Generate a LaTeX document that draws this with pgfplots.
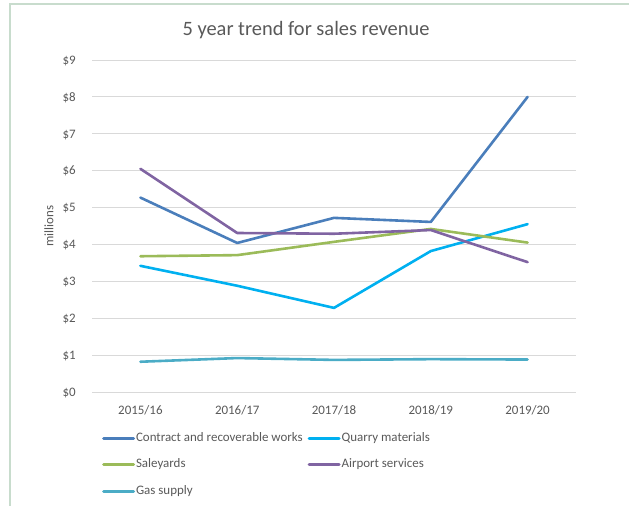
\documentclass[border=0pt]{standalone}
\usepackage{pgfplots}
\pgfplotsset{compat=1.18}
\usepackage{fontspec}
\setmainfont{Carlito}
\definecolor{txt}{HTML}{595959}
\definecolor{gridc}{HTML}{D9D9D9}
\definecolor{framec}{HTML}{C8DCCD}
\definecolor{cBlue}{HTML}{4A7EBB}
\definecolor{cCyan}{HTML}{00B0F0}
\definecolor{cGreen}{HTML}{9BBB59}
\definecolor{cPurple}{HTML}{8064A2}
\definecolor{cTeal}{HTML}{4BACC6}
\begin{document}
\begin{tikzpicture}[x=1bp,y=1bp]
\path[use as bounding box] (0,0) rectangle (629,506);
\draw[framec, line width=2.5bp] (10,0) -- (10,502) -- (629,502);
\node[text=txt, font=\fontsize{20.5}{24}\selectfont] at (306,476) {5 year trend for sales revenue};
\begin{axis}[
  at={(92bp,114bp)}, anchor=south west,
  width=484bp, height=332bp, scale only axis,
  xmin=-0.5, xmax=4.5, ymin=0, ymax=9,
  axis line style={draw=none},
  ytick={0,...,9}, xtick={0,...,4},
  xticklabels={2015/16,2016/17,2017/18,2018/19,2019/20},
  major tick length=0pt,
  ymajorgrids, grid style={gridc, line width=0.9bp},
  yticklabel={\$\pgfmathprintnumber[assume math mode=true]{\tick}},
  ticklabel style={font=\fontsize{13}{15}\selectfont, text=txt},
  yticklabel style={anchor=base east, inner sep=0pt, xshift=-16bp, yshift=-4.3bp},
  xticklabel style={anchor=base, inner sep=0pt, yshift=-23bp},
  ylabel={millions},
  ylabel style={font=\fontsize{13}{15}\selectfont, text=txt, at={(axis description cs:-0.0888,0.5)}, anchor=center},
  legend columns=2,
  legend cell align=left,
  legend style={at={(axis description cs:0.0207,-0.1215)}, anchor=north west, draw=none, fill=none, inner sep=0pt, row sep=14.3bp,
    font=\fontsize{13}{15}\selectfont, text=txt,
    nodes={inner xsep=1bp, inner ysep=0pt, text height=9bp, text depth=3bp},
    /tikz/every even column/.append style={column sep=4bp}},
  legend image code/.code={\draw[#1, line width=2.8bp] (0bp,0bp) -- (30bp,0bp);},
  every axis plot/.append style={line width=2.6bp, line join=round, line cap=round},
]
\addplot[cBlue] coordinates {(0,5.27) (1,4.04) (2,4.72) (3,4.61) (4,8.00)};
\addlegendentry{Contract and recoverable works}
\addplot[cCyan] coordinates {(0,3.42) (1,2.88) (2,2.28) (3,3.82) (4,4.55)};
\addlegendentry{Quarry materials}
\addplot[cGreen] coordinates {(0,3.68) (1,3.71) (2,4.07) (3,4.42) (4,4.05)};
\addlegendentry{Saleyards}
\addplot[cPurple] coordinates {(0,6.05) (1,4.31) (2,4.29) (3,4.39) (4,3.52)};
\addlegendentry{Airport services}
\addplot[cTeal] coordinates {(0,0.82) (1,0.92) (2,0.87) (3,0.89) (4,0.88)};
\addlegendentry{Gas supply}
\end{axis}
\end{tikzpicture}
\end{document}
